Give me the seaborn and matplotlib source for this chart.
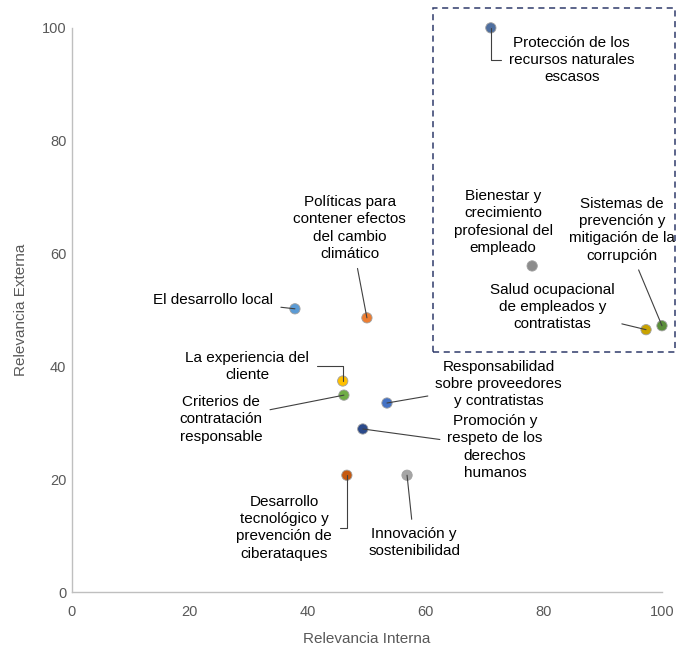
import numpy as np
import pandas as pd
import seaborn as sns
import matplotlib
matplotlib.use('Agg')
import matplotlib.pyplot as plt
from matplotlib.patches import Rectangle

# Data
temas = [
    'Protección de los\nrecursos naturales\nescasos',
    'Bienestar y\ncrecimiento\nprofesional del\nempleado',
    'Sistemas de\nprevención y\nmitigación de la\ncorrupción',
    'Salud ocupacional\nde empleados y\ncontratistas',
    'Políticas para\ncontener efectos\ndel cambio\nclimático',
    'El desarrollo local',
    'La experiencia del\ncliente',
    'Criterios de\ncontratación\nresponsable',
    'Responsabilidad\nsobre proveedores\ny contratistas',
    'Promoción y\nrespeto de los\nderechos\nhumanos',
    'Desarrollo\ntecnológico y\nprevención de\nciberataques',
    'Innovación y\nsostenibilidad',
]
rel_interna = [71.0, 78.0, 100.0, 97.3, 50.0, 37.8, 45.9, 46.1, 53.4, 49.3, 46.6, 56.8]
rel_externa = [100.0, 57.8, 47.2, 46.5, 48.6, 50.2, 37.4, 34.9, 33.5, 28.9, 20.7, 20.7]

colores = ['#4F6F9F', '#8C8C8C', '#5B8E3A', '#C9A300', '#ED7D31', '#5B9BD5',
           '#FFC000', '#70AD47', '#4472C4', '#2B4A8B', '#C55A11', '#A5A5A5']

# label positions (text centre) and leader styles
lab_x = [84.7, 73.1, 93.2, 81.4, 47.1, 24.0, 29.7, 25.3, 72.3, 71.7, 36.0, 58.0]
lab_y = [94.3, 65.6, 64.2, 50.5, 64.5, 51.8, 40.0, 30.6, 36.9, 25.7, 11.4, 8.8]
estilos = ['angle,angleA=180,angleB=90,rad=0', None, 'arc3', 'arc3', 'arc3', 'arc3',
           'angle,angleA=0,angleB=90,rad=0', 'arc3', 'arc3', 'arc3',
           'angle,angleA=0,angleB=90,rad=0', 'arc3']

df = pd.DataFrame({'tema': temas, 'interna': rel_interna, 'externa': rel_externa})

sns.set_style('white')
plt.rcParams['font.family'] = ['Liberation Sans', 'DejaVu Sans']

fig = plt.figure(figsize=(6.91, 6.48), dpi=100)
ax = fig.add_axes([0.104, 0.0864, 0.854, 0.8706])

sns.scatterplot(data=df, x='interna', y='externa', hue='tema', palette=colores,
                s=55, edgecolor='#A0A0A0', linewidth=0.6, legend=False, ax=ax,
                zorder=3, clip_on=False)

for i, t in enumerate(temas):
    if estilos[i] is None:
        ax.text(lab_x[i], lab_y[i], t, ha='center', va='center', fontsize=11,
                color='black', linespacing=1.3)
        continue
    ax.annotate(t, xy=(rel_interna[i], rel_externa[i]), xytext=(lab_x[i], lab_y[i]),
                ha='center', va='center', fontsize=11, color='black', linespacing=1.3,
                arrowprops=dict(arrowstyle='-', color='#404040', lw=0.8,
                                connectionstyle=estilos[i], shrinkA=3, shrinkB=0))

ax.add_patch(Rectangle((61.2, 42.6), 41.0, 60.9, fill=False, edgecolor='#2F3B6B',
                       linestyle=(0, (4, 3)), lw=1.1, clip_on=False, zorder=2))

ax.set_xlim(0, 100)
ax.set_ylim(0, 100)
ax.set_xticks(np.arange(0, 101, 20))
ax.set_yticks(np.arange(0, 101, 20))
ax.tick_params(axis='x', length=0, labelsize=10.5, labelcolor='#595959', pad=9)
ax.tick_params(axis='y', length=0, labelsize=10.5, labelcolor='#595959', pad=4)

for side in ['top', 'right']:
    ax.spines[side].set_visible(False)
for side in ['left', 'bottom']:
    ax.spines[side].set_color('#BFBFBF')
    ax.spines[side].set_linewidth(1.0)

ax.set_xlabel('Relevancia Interna', fontsize=11, color='#595959', labelpad=10)
ax.set_ylabel('Relevancia Externa', fontsize=11, color='#595959', labelpad=10)

fig.savefig('out.png', dpi=100)
